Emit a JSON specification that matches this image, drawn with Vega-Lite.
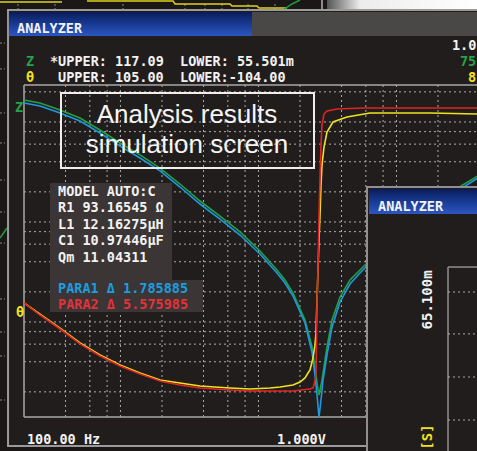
{
  "$schema": "https://vega.github.io/schema/vega-lite/v6.json",
  "width": 477,
  "height": 451,
  "padding": 0,
  "autosize": {"type": "none"},
  "background": "#1b1717",
  "config": {"view": {"stroke": null}},
  "datasets": {
    "zcurves": [
      {"series": "Z measured", "f": 100, "Z": 82.9},
      {"series": "Z measured", "f": 130.6, "Z": 77.4},
      {"series": "Z measured", "f": 182.4, "Z": 65.8},
      {"series": "Z measured", "f": 254.5, "Z": 54.8},
      {"series": "Z measured", "f": 355.3, "Z": 41.5},
      {"series": "Z measured", "f": 496.3, "Z": 30.8},
      {"series": "Z measured", "f": 692.8, "Z": 23.4},
      {"series": "Z measured", "f": 967.2, "Z": 17.3},
      {"series": "Z measured", "f": 1350, "Z": 11.98},
      {"series": "Z measured", "f": 1885, "Z": 8.1},
      {"series": "Z measured", "f": 2633, "Z": 5.73},
      {"series": "Z measured", "f": 3675, "Z": 3.97},
      {"series": "Z measured", "f": 5130, "Z": 2.56},
      {"series": "Z measured", "f": 6813, "Z": 1.654},
      {"series": "Z measured", "f": 7786, "Z": 1.314},
      {"series": "Z measured", "f": 8899, "Z": 0.974},
      {"series": "Z measured", "f": 10870, "Z": 0.523},
      {"series": "Z measured", "f": 12218, "Z": 0.281},
      {"series": "Z measured", "f": 12843, "Z": 0.177},
      {"series": "Z measured", "f": 13281, "Z": 0.1226},
      {"series": "Z measured", "f": 13731, "Z": 0.093},
      {"series": "Z measured", "f": 14436, "Z": 0.131},
      {"series": "Z measured", "f": 15690, "Z": 0.281},
      {"series": "Z measured", "f": 17060, "Z": 0.523},
      {"series": "Z measured", "f": 19490, "Z": 0.888},
      {"series": "Z measured", "f": 23030, "Z": 1.314},
      {"series": "Z measured", "f": 27210, "Z": 1.654},
      {"series": "Z measured", "f": 32150, "Z": 2.08},
      {"series": "Z measured", "f": 53040, "Z": 3.7},
      {"series": "Z measured", "f": 87500, "Z": 6.55},
      {"series": "Z measured", "f": 137300, "Z": 10.8},
      {"series": "Z measured", "f": 191700, "Z": 14.3},
      {"series": "Z simulated", "f": 100, "Z": 77.4},
      {"series": "Z simulated", "f": 130.6, "Z": 72.2},
      {"series": "Z simulated", "f": 182.4, "Z": 61.4},
      {"series": "Z simulated", "f": 254.5, "Z": 51.1},
      {"series": "Z simulated", "f": 355.3, "Z": 38.8},
      {"series": "Z simulated", "f": 496.3, "Z": 28.7},
      {"series": "Z simulated", "f": 692.8, "Z": 21.8},
      {"series": "Z simulated", "f": 967.2, "Z": 16.2},
      {"series": "Z simulated", "f": 1350, "Z": 11.18},
      {"series": "Z simulated", "f": 1885, "Z": 7.56},
      {"series": "Z simulated", "f": 2633, "Z": 5.35},
      {"series": "Z simulated", "f": 3675, "Z": 3.7},
      {"series": "Z simulated", "f": 5130, "Z": 2.39},
      {"series": "Z simulated", "f": 6813, "Z": 1.543},
      {"series": "Z simulated", "f": 7786, "Z": 1.226},
      {"series": "Z simulated", "f": 8899, "Z": 0.909},
      {"series": "Z simulated", "f": 10870, "Z": 0.488},
      {"series": "Z simulated", "f": 12218, "Z": 0.25},
      {"series": "Z simulated", "f": 12843, "Z": 0.147},
      {"series": "Z simulated", "f": 13281, "Z": 0.093},
      {"series": "Z simulated", "f": 13731, "Z": 0.056},
      {"series": "Z simulated", "f": 14197, "Z": 0.0829},
      {"series": "Z simulated", "f": 14680, "Z": 0.131},
      {"series": "Z simulated", "f": 15690, "Z": 0.234},
      {"series": "Z simulated", "f": 17060, "Z": 0.445},
      {"series": "Z simulated", "f": 19490, "Z": 0.792},
      {"series": "Z simulated", "f": 23030, "Z": 1.198},
      {"series": "Z simulated", "f": 27210, "Z": 1.543},
      {"series": "Z simulated", "f": 32150, "Z": 1.943},
      {"series": "Z simulated", "f": 53040, "Z": 3.46},
      {"series": "Z simulated", "f": 87500, "Z": 6.14},
      {"series": "Z simulated", "f": 137300, "Z": 10.1},
      {"series": "Z simulated", "f": 191700, "Z": 13.6}
    ],
    "tcurves": [
      {"series": "θ measured", "f": 100, "t": -32.2},
      {"series": "θ measured", "f": 130.6, "t": -39.2},
      {"series": "θ measured", "f": 182.4, "t": -48.0},
      {"series": "θ measured", "f": 254.5, "t": -57.4},
      {"series": "θ measured", "f": 355.3, "t": -65.0},
      {"series": "θ measured", "f": 496.3, "t": -71.3},
      {"series": "θ measured", "f": 692.8, "t": -76.3},
      {"series": "θ measured", "f": 967.2, "t": -80.7},
      {"series": "θ measured", "f": 1350, "t": -82.6},
      {"series": "θ measured", "f": 1885, "t": -84.5},
      {"series": "θ measured", "f": 3110, "t": -85.7},
      {"series": "θ measured", "f": 4341, "t": -86.4},
      {"series": "θ measured", "f": 6062, "t": -85.7},
      {"series": "θ measured", "f": 7164, "t": -85.1},
      {"series": "θ measured", "f": 8899, "t": -83.9},
      {"series": "θ measured", "f": 10000, "t": -82.0},
      {"series": "θ measured", "f": 10870, "t": -79.4},
      {"series": "θ measured", "f": 11430, "t": -76.3},
      {"series": "θ measured", "f": 11815, "t": -74.4},
      {"series": "θ measured", "f": 12420, "t": -66.9},
      {"series": "θ measured", "f": 12843, "t": -58.7},
      {"series": "θ measured", "f": 13060, "t": -51.1},
      {"series": "θ measured", "f": 13281, "t": -30.3},
      {"series": "θ measured", "f": 13503, "t": -11.5},
      {"series": "θ measured", "f": 13731, "t": 7.4},
      {"series": "θ measured", "f": 13959, "t": 23.2},
      {"series": "θ measured", "f": 14197, "t": 42.0},
      {"series": "θ measured", "f": 14436, "t": 54.6},
      {"series": "θ measured", "f": 14930, "t": 66.0},
      {"series": "θ measured", "f": 15690, "t": 75.4},
      {"series": "θ measured", "f": 17340, "t": 81.7},
      {"series": "θ measured", "f": 21900, "t": 84.9},
      {"series": "θ measured", "f": 32150, "t": 87.4},
      {"series": "θ measured", "f": 53040, "t": 87.4},
      {"series": "θ measured", "f": 87500, "t": 87.4},
      {"series": "θ measured", "f": 191700, "t": 86.7},
      {"series": "θ simulated", "f": 100, "t": -32.2},
      {"series": "θ simulated", "f": 130.6, "t": -39.8},
      {"series": "θ simulated", "f": 182.4, "t": -48.6},
      {"series": "θ simulated", "f": 254.5, "t": -58.0},
      {"series": "θ simulated", "f": 355.3, "t": -65.6},
      {"series": "θ simulated", "f": 496.3, "t": -71.9},
      {"series": "θ simulated", "f": 692.8, "t": -76.9},
      {"series": "θ simulated", "f": 967.2, "t": -81.3},
      {"series": "θ simulated", "f": 1350, "t": -83.9},
      {"series": "θ simulated", "f": 1885, "t": -85.7},
      {"series": "θ simulated", "f": 3110, "t": -87.0},
      {"series": "θ simulated", "f": 4341, "t": -87.6},
      {"series": "θ simulated", "f": 8899, "t": -87.6},
      {"series": "θ simulated", "f": 11815, "t": -86.4},
      {"series": "θ simulated", "f": 12420, "t": -85.7},
      {"series": "θ simulated", "f": 12630, "t": -83.9},
      {"series": "θ simulated", "f": 13060, "t": -77.6},
      {"series": "θ simulated", "f": 13170, "t": -58.7},
      {"series": "θ simulated", "f": 13281, "t": -32.2},
      {"series": "θ simulated", "f": 13503, "t": -10.2},
      {"series": "θ simulated", "f": 13731, "t": 23.2},
      {"series": "θ simulated", "f": 13959, "t": 45.2},
      {"series": "θ simulated", "f": 14197, "t": 67.2},
      {"series": "θ simulated", "f": 14436, "t": 79.8},
      {"series": "θ simulated", "f": 14930, "t": 86.7},
      {"series": "θ simulated", "f": 15690, "t": 88.6},
      {"series": "θ simulated", "f": 18540, "t": 89.9},
      {"series": "θ simulated", "f": 28610, "t": 90.5},
      {"series": "θ simulated", "f": 191700, "t": 90.5}
    ],
    "bgtraces": [
      {"trace": "bgθ1", "quantity": "θ", "f": 67, "t": 157.2},
      {"trace": "bgθ1", "quantity": "θ", "f": 188.6, "t": 157.2},
      {"trace": "bgθ2", "quantity": "θ", "f": 286.1, "t": 157.9},
      {"trace": "bgθ2", "quantity": "θ", "f": 1202, "t": 157.9},
      {"trace": "bgθ2", "quantity": "θ", "f": 1243, "t": 156.0},
      {"trace": "bgθ2", "quantity": "θ", "f": 3110, "t": 156.0},
      {"trace": "bgθ2", "quantity": "θ", "f": 3215, "t": 154.7},
      {"trace": "bgθ2", "quantity": "θ", "f": 4880, "t": 154.7},
      {"trace": "bgθ2", "quantity": "θ", "f": 5045, "t": 153.5},
      {"trace": "bgθ2", "quantity": "θ", "f": 8050, "t": 153.5},
      {"trace": "bgZ1", "quantity": "Z", "f": 7532, "t": 152.2},
      {"trace": "bgZ1", "quantity": "Z", "f": 8750, "t": 156.0},
      {"trace": "bgZ1", "quantity": "Z", "f": 10000, "t": 158.5},
      {"trace": "bgZ2", "quantity": "Z", "f": 67, "t": 8.7},
      {"trace": "bgZ2", "quantity": "Z", "f": 75.3, "t": 15.0}
    ],
    "panels": [
      {"part": "glare", "f": 15690, "f2": 191700, "t": 158.5, "t2": 152.2},
      {"part": "main", "f": 76.6, "f2": 200000, "t": 152.2, "t2": -122.2},
      {"part": "titlebar", "f": 77.8, "f2": 200000, "t": 150.95, "t2": 135.85},
      {"part": "titleblue", "f": 77.8, "f2": 4490, "t": 150.95, "t2": 135.85},
      {"part": "model", "f": 154.3, "f2": 1182, "t": 43.3, "t2": -17.8},
      {"part": "model", "f": 154.3, "f2": 1982, "t": -17.8, "t2": -37.9},
      {"part": "box", "f": 185.4, "f2": 12630, "t": 99.96, "t2": 52.75},
      {"part": "win2", "f": 30590, "f2": 200000, "t": 40.8, "t2": -127},
      {"part": "win2title", "f": 31620, "f2": 200000, "t": 39.5, "t2": 23.8}
    ],
    "segs": [
      {"kind": "tick", "f": 90.5, "f2": 90.5, "t": 156.0, "t2": 152.2},
      {"kind": "tick", "f": 167.7, "f2": 167.7, "t": 156.0, "t2": 152.2},
      {"kind": "tick", "f": 521.7, "f2": 521.7, "t": 156.0, "t2": 152.2},
      {"kind": "tick", "f": 1468, "f2": 1468, "t": 156.0, "t2": 152.2},
      {"kind": "tick", "f": 2049, "f2": 2049, "t": 156.0, "t2": 152.2},
      {"kind": "tick", "f": 2722, "f2": 2722, "t": 156.0, "t2": 152.2},
      {"kind": "tick", "f": 4201, "f2": 4201, "t": 156.0, "t2": 152.2},
      {"kind": "tick", "f": 6590, "f2": 6590, "t": 156.0, "t2": 152.2},
      {"kind": "tick", "f": 67, "f2": 72.8, "t": 131.4, "t2": 131.4},
      {"kind": "tick", "f": 67, "f2": 72.8, "t": 115.1, "t2": 115.1},
      {"kind": "tick", "f": 67, "f2": 72.8, "t": 87.4, "t2": 87.4},
      {"kind": "tick", "f": 67, "f2": 72.8, "t": 68.5, "t2": 68.5},
      {"kind": "tick", "f": 67, "f2": 72.8, "t": 45.2, "t2": 45.2},
      {"kind": "tick", "f": 67, "f2": 72.8, "t": 25.05, "t2": 25.05},
      {"kind": "tick", "f": 67, "f2": 72.8, "t": 5.5, "t2": 5.5},
      {"kind": "tick", "f": 67, "f2": 72.8, "t": -29.7, "t2": -29.7},
      {"kind": "tick", "f": 67, "f2": 72.8, "t": -50.5, "t2": -50.5},
      {"kind": "tick", "f": 67, "f2": 72.8, "t": -65.6, "t2": -65.6},
      {"kind": "tick", "f": 67, "f2": 72.8, "t": -93.3, "t2": -93.3},
      {"kind": "sep", "f": 14436, "f2": 14436, "t": 158.5, "t2": 152.2},
      {"kind": "frame", "f": 100, "f2": 191700, "t": 105, "t2": 105},
      {"kind": "frame", "f": 100, "f2": 100, "t": 105, "t2": -104},
      {"kind": "frame", "f": 100, "f2": 191700, "t": -104, "t2": -104},
      {"kind": "w2frame", "f": 118200, "f2": 118200, "t": -9.6, "t2": -127},
      {"kind": "w2frame", "f": 118200, "f2": 200000, "t": -9.6, "t2": -9.6},
      {"kind": "w2grid", "f": 118200, "f2": 200000, "t": -25.3, "t2": -25.3},
      {"kind": "w2grid", "f": 118200, "f2": 200000, "t": -51.7, "t2": -51.7},
      {"kind": "w2grid", "f": 118200, "f2": 200000, "t": -78.8, "t2": -78.8},
      {"kind": "w2grid", "f": 118200, "f2": 200000, "t": -105.9, "t2": -105.9}
    ],
    "vgrid": [
      {"f": 200}, {"f": 300}, {"f": 400}, {"f": 500}, {"f": 1000},
      {"f": 2000}, {"f": 3000}, {"f": 4000}, {"f": 5000}, {"f": 10000},
      {"f": 20000}, {"f": 30000}, {"f": 40000}, {"f": 50000}, {"f": 100000}
    ],
    "hgrid": [
      {"Z": 0.1}, {"Z": 0.2}, {"Z": 0.3}, {"Z": 0.4}, {"Z": 0.5},
      {"Z": 1}, {"Z": 2}, {"Z": 3}, {"Z": 4}, {"Z": 5},
      {"Z": 10}, {"Z": 20}, {"Z": 30}, {"Z": 40}, {"Z": 50}, {"Z": 100}
    ],
    "labels": [
      {"text": "ANALYZER", "f": 89.0, "t": 137.7, "role": "label", "win": 1},
      {"text": "Z", "f": 103.4, "t": 117.0, "role": "Z", "win": 1},
      {"text": "*UPPER: 117.09\u00a0\u00a0LOWER: 55.501m", "f": 154.3, "t": 117.0, "role": "label", "win": 1},
      {"text": "θ", "f": 103.4, "t": 106.9, "role": "θ", "win": 1},
      {"text": "UPPER: 105.00\u00a0\u00a0LOWER:-104.00", "f": 176.4, "t": 106.9, "role": "label", "win": 1},
      {"text": "1.0", "f": 126300, "t": 127.0, "role": "label", "win": 1},
      {"text": "75", "f": 144300, "t": 117.0, "role": "Z", "win": 1},
      {"text": "8", "f": 165000, "t": 106.9, "role": "θ", "win": 1},
      {"text": "Z", "f": 86.1, "t": 88.0, "role": "Z", "win": 1},
      {"text": "θ", "f": 87.5, "t": -41.0, "role": "θ", "win": 1},
      {"text": "MODEL AUTO:C", "f": 176.4, "t": 35.1, "role": "label", "win": 1},
      {"text": "R1 93.16545 Ω", "f": 176.4, "t": 25.05, "role": "label", "win": 1},
      {"text": "L1 12.16275µH", "f": 176.4, "t": 14.35, "role": "label", "win": 1},
      {"text": "C1 10.97446µF", "f": 176.4, "t": 4.28, "role": "label", "win": 1},
      {"text": "Qm 11.04311", "f": 176.4, "t": -6.4, "role": "label", "win": 1},
      {"text": "PARA1 Δ 1.785885", "f": 176.4, "t": -25.9, "role": "PARA1", "win": 1},
      {"text": "PARA2 Δ 5.575985", "f": 176.4, "t": -36.0, "role": "PARA2", "win": 1},
      {"text": "100.00 Hz", "f": 105.1, "t": -121.0, "role": "label", "win": 1},
      {"text": "1.000V", "f": 6813, "t": -121.0, "role": "label", "win": 1},
      {"text": "ANALYZER", "f": 36750, "t": 25.7, "role": "label", "win": 2},
      {"text": "65.100m", "f": 84650, "t": -30.3, "role": "label", "win": 3},
      {"text": "[S]", "f": 84650, "t": -116.6, "role": "θ", "win": 3}
    ],
    "captions": [
      {"text": "Analysis results", "f": 1518, "t": 81.1},
      {"text": "simulation screen", "f": 1518, "t": 62.2}
    ]
  },
  "resolve": {"scale": {"y": "independent", "color": "independent"}},
  "layer": [
    {
      "data": {"name": "panels"},
      "transform": [{"filter": "datum.part === 'glare'"}],
      "mark": {"type": "rect", "clip": true, "fill": {"gradient": "linear", "x1": 0, "y1": 0, "x2": 1, "y2": 0, "stops": [{"offset": 0, "color": "#555555"}, {"offset": 0.22, "color": "#ececec"}, {"offset": 1, "color": "#ffffff"}]}},
      "encoding": {
        "x": {"field": "f", "type": "quantitative", "scale": {"type": "log", "domain": [67, 191700], "nice": false}, "axis": null},
        "x2": {"field": "f2"},
        "y": {"field": "t", "type": "quantitative", "scale": {"domain": [-125.4, 158.5], "nice": false, "zero": false}, "axis": null},
        "y2": {"field": "t2"}
      }
    },
    {
      "data": {"name": "segs"},
      "transform": [{"filter": "datum.kind === 'tick'"}],
      "mark": {"type": "rule", "clip": true, "stroke": "#8a8a8a", "strokeWidth": 1, "strokeDash": [2, 2]},
      "encoding": {
        "x": {"field": "f", "type": "quantitative", "scale": {"type": "log", "domain": [67, 191700], "nice": false}, "axis": null},
        "x2": {"field": "f2"},
        "y": {"field": "t", "type": "quantitative", "scale": {"domain": [-125.4, 158.5], "nice": false, "zero": false}, "axis": null},
        "y2": {"field": "t2"}
      }
    },
    {
      "data": {"name": "segs"},
      "transform": [{"filter": "datum.kind === 'sep'"}],
      "mark": {"type": "rule", "clip": true, "stroke": "#8c8c8c", "strokeWidth": 2},
      "encoding": {
        "x": {"field": "f", "type": "quantitative", "scale": {"type": "log", "domain": [67, 191700], "nice": false}, "axis": null},
        "x2": {"field": "f2"},
        "y": {"field": "t", "type": "quantitative", "scale": {"domain": [-125.4, 158.5], "nice": false, "zero": false}, "axis": null},
        "y2": {"field": "t2"}
      }
    },
    {
      "data": {"name": "bgtraces"},
      "mark": {"type": "line", "clip": true, "strokeWidth": 1.5},
      "encoding": {
        "x": {"field": "f", "type": "quantitative", "scale": {"type": "log", "domain": [67, 191700], "nice": false}, "axis": null},
        "y": {"field": "t", "type": "quantitative", "scale": {"domain": [-125.4, 158.5], "nice": false, "zero": false}, "axis": null},
        "detail": {"field": "trace"},
        "color": {"field": "quantity", "type": "nominal", "scale": {"domain": ["Z", "θ"], "range": ["#1f9a40", "#e0d41e"]}, "legend": null}
      }
    },
    {
      "data": {"name": "panels"},
      "transform": [{"filter": "datum.part === 'main'"}],
      "mark": {"type": "rect", "clip": true, "fill": "#221d1d", "stroke": "#9a9a9a", "strokeWidth": 2},
      "encoding": {
        "x": {"field": "f", "type": "quantitative", "scale": {"type": "log", "domain": [67, 191700], "nice": false}, "axis": null},
        "x2": {"field": "f2"},
        "y": {"field": "t", "type": "quantitative", "scale": {"domain": [-125.4, 158.5], "nice": false, "zero": false}, "axis": null},
        "y2": {"field": "t2"}
      }
    },
    {
      "data": {"name": "panels"},
      "transform": [{"filter": "datum.part === 'titlebar'"}],
      "mark": {"type": "rect", "clip": true, "fill": "#4a4747"},
      "encoding": {
        "x": {"field": "f", "type": "quantitative", "scale": {"type": "log", "domain": [67, 191700], "nice": false}, "axis": null},
        "x2": {"field": "f2"},
        "y": {"field": "t", "type": "quantitative", "scale": {"domain": [-125.4, 158.5], "nice": false, "zero": false}, "axis": null},
        "y2": {"field": "t2"}
      }
    },
    {
      "data": {"name": "panels"},
      "transform": [{"filter": "datum.part === 'titleblue'"}],
      "mark": {"type": "rect", "clip": true, "fill": {"gradient": "linear", "x1": 0, "y1": 0, "x2": 0, "y2": 1, "stops": [{"offset": 0, "color": "#0a1c58"}, {"offset": 0.5, "color": "#183a94"}, {"offset": 1, "color": "#2e56c0"}]}},
      "encoding": {
        "x": {"field": "f", "type": "quantitative", "scale": {"type": "log", "domain": [67, 191700], "nice": false}, "axis": null},
        "x2": {"field": "f2"},
        "y": {"field": "t", "type": "quantitative", "scale": {"domain": [-125.4, 158.5], "nice": false, "zero": false}, "axis": null},
        "y2": {"field": "t2"}
      }
    },
    {
      "data": {"name": "vgrid"},
      "mark": {"type": "rule", "clip": true, "stroke": "#c4c4c4", "strokeWidth": 1, "strokeDash": [2, 3], "opacity": 0.85},
      "encoding": {
        "x": {"field": "f", "type": "quantitative", "scale": {"type": "log", "domain": [67, 191700], "nice": false}, "axis": null},
        "y": {"datum": 105, "type": "quantitative", "scale": {"domain": [-125.4, 158.5], "nice": false, "zero": false}, "axis": null},
        "y2": {"datum": -104}
      }
    },
    {
      "data": {"name": "hgrid"},
      "mark": {"type": "rule", "clip": true, "stroke": "#c4c4c4", "strokeWidth": 1, "strokeDash": [2, 3], "opacity": 0.85},
      "encoding": {
        "x": {"datum": 100, "type": "quantitative", "scale": {"type": "log", "domain": [67, 191700], "nice": false}, "axis": null},
        "x2": {"datum": 191700},
        "y": {"field": "Z", "type": "quantitative", "scale": {"type": "log", "domain": [0.02562, 828.9], "nice": false}, "axis": null}
      }
    },
    {
      "data": {"name": "segs"},
      "transform": [{"filter": "datum.kind === 'frame'"}],
      "mark": {"type": "rule", "clip": true, "stroke": "#a8a8a8", "strokeWidth": 1.5},
      "encoding": {
        "x": {"field": "f", "type": "quantitative", "scale": {"type": "log", "domain": [67, 191700], "nice": false}, "axis": null},
        "x2": {"field": "f2"},
        "y": {"field": "t", "type": "quantitative", "scale": {"domain": [-125.4, 158.5], "nice": false, "zero": false}, "axis": null},
        "y2": {"field": "t2"}
      }
    },
    {
      "data": {"name": "zcurves"},
      "mark": {"type": "line", "clip": true, "strokeWidth": 1.6},
      "encoding": {
        "x": {"field": "f", "type": "quantitative", "scale": {"type": "log", "domain": [67, 191700], "nice": false}, "axis": null},
        "y": {"field": "Z", "type": "quantitative", "scale": {"type": "log", "domain": [0.02562, 828.9], "nice": false}, "axis": null},
        "color": {"field": "series", "type": "nominal", "scale": {"domain": ["Z measured", "Z simulated"], "range": ["#22a045", "#1c98e0"]}, "legend": null}
      }
    },
    {
      "data": {"name": "tcurves"},
      "mark": {"type": "line", "clip": true, "strokeWidth": 1.6},
      "encoding": {
        "x": {"field": "f", "type": "quantitative", "scale": {"type": "log", "domain": [67, 191700], "nice": false}, "axis": null},
        "y": {"field": "t", "type": "quantitative", "scale": {"domain": [-125.4, 158.5], "nice": false, "zero": false}, "axis": null},
        "color": {"field": "series", "type": "nominal", "scale": {"domain": ["θ measured", "θ simulated"], "range": ["#f2e21e", "#e02424"]}, "legend": null}
      }
    },
    {
      "data": {"name": "panels"},
      "transform": [{"filter": "datum.part === 'model'"}],
      "mark": {"type": "rect", "clip": true, "fill": "#3b3535"},
      "encoding": {
        "x": {"field": "f", "type": "quantitative", "scale": {"type": "log", "domain": [67, 191700], "nice": false}, "axis": null},
        "x2": {"field": "f2"},
        "y": {"field": "t", "type": "quantitative", "scale": {"domain": [-125.4, 158.5], "nice": false, "zero": false}, "axis": null},
        "y2": {"field": "t2"}
      }
    },
    {
      "data": {"name": "panels"},
      "transform": [{"filter": "datum.part === 'box'"}],
      "mark": {"type": "rect", "clip": true, "fill": "#000000", "fillOpacity": 0, "stroke": "#eeeeee", "strokeWidth": 2},
      "encoding": {
        "x": {"field": "f", "type": "quantitative", "scale": {"type": "log", "domain": [67, 191700], "nice": false}, "axis": null},
        "x2": {"field": "f2"},
        "y": {"field": "t", "type": "quantitative", "scale": {"domain": [-125.4, 158.5], "nice": false, "zero": false}, "axis": null},
        "y2": {"field": "t2"}
      }
    },
    {
      "data": {"name": "labels"},
      "transform": [{"filter": "datum.win === 1"}],
      "mark": {"type": "text", "clip": true, "font": "DejaVu Sans Mono", "fontWeight": "bold", "fontSize": 13.5, "align": "left", "baseline": "alphabetic"},
      "encoding": {
        "x": {"field": "f", "type": "quantitative", "scale": {"type": "log", "domain": [67, 191700], "nice": false}, "axis": null},
        "y": {"field": "t", "type": "quantitative", "scale": {"domain": [-125.4, 158.5], "nice": false, "zero": false}, "axis": null},
        "text": {"field": "text"},
        "color": {"field": "role", "type": "nominal", "scale": {"domain": ["label", "Z", "θ", "PARA1", "PARA2"], "range": ["#f2f2f2", "#22a447", "#f2e21e", "#1c9de0", "#e2323a"]}, "legend": null}
      }
    },
    {
      "data": {"name": "captions"},
      "mark": {"type": "text", "clip": true, "font": "Liberation Sans", "fontSize": 26, "align": "center", "baseline": "alphabetic", "color": "#f5f5f5"},
      "encoding": {
        "x": {"field": "f", "type": "quantitative", "scale": {"type": "log", "domain": [67, 191700], "nice": false}, "axis": null},
        "y": {"field": "t", "type": "quantitative", "scale": {"domain": [-125.4, 158.5], "nice": false, "zero": false}, "axis": null},
        "text": {"field": "text"}
      }
    },
    {
      "data": {"name": "panels"},
      "transform": [{"filter": "datum.part === 'win2'"}],
      "mark": {"type": "rect", "clip": true, "fill": "#221d1d", "stroke": "#8f8f8f", "strokeWidth": 2},
      "encoding": {
        "x": {"field": "f", "type": "quantitative", "scale": {"type": "log", "domain": [67, 191700], "nice": false}, "axis": null},
        "x2": {"field": "f2"},
        "y": {"field": "t", "type": "quantitative", "scale": {"domain": [-125.4, 158.5], "nice": false, "zero": false}, "axis": null},
        "y2": {"field": "t2"}
      }
    },
    {
      "data": {"name": "panels"},
      "transform": [{"filter": "datum.part === 'win2title'"}],
      "mark": {"type": "rect", "clip": true, "fill": {"gradient": "linear", "x1": 0, "y1": 0, "x2": 0, "y2": 1, "stops": [{"offset": 0, "color": "#0a1c58"}, {"offset": 0.5, "color": "#183a94"}, {"offset": 1, "color": "#2e56c0"}]}},
      "encoding": {
        "x": {"field": "f", "type": "quantitative", "scale": {"type": "log", "domain": [67, 191700], "nice": false}, "axis": null},
        "x2": {"field": "f2"},
        "y": {"field": "t", "type": "quantitative", "scale": {"domain": [-125.4, 158.5], "nice": false, "zero": false}, "axis": null},
        "y2": {"field": "t2"}
      }
    },
    {
      "data": {"name": "segs"},
      "transform": [{"filter": "datum.kind === 'w2frame'"}],
      "mark": {"type": "rule", "clip": true, "stroke": "#8f8f8f", "strokeWidth": 1.5},
      "encoding": {
        "x": {"field": "f", "type": "quantitative", "scale": {"type": "log", "domain": [67, 191700], "nice": false}, "axis": null},
        "x2": {"field": "f2"},
        "y": {"field": "t", "type": "quantitative", "scale": {"domain": [-125.4, 158.5], "nice": false, "zero": false}, "axis": null},
        "y2": {"field": "t2"}
      }
    },
    {
      "data": {"name": "segs"},
      "transform": [{"filter": "datum.kind === 'w2grid'"}],
      "mark": {"type": "rule", "clip": true, "stroke": "#c4c4c4", "strokeWidth": 1, "strokeDash": [2, 3], "opacity": 0.85},
      "encoding": {
        "x": {"field": "f", "type": "quantitative", "scale": {"type": "log", "domain": [67, 191700], "nice": false}, "axis": null},
        "x2": {"field": "f2"},
        "y": {"field": "t", "type": "quantitative", "scale": {"domain": [-125.4, 158.5], "nice": false, "zero": false}, "axis": null},
        "y2": {"field": "t2"}
      }
    },
    {
      "data": {"name": "labels"},
      "transform": [{"filter": "datum.win === 2"}],
      "mark": {"type": "text", "clip": true, "font": "DejaVu Sans Mono", "fontWeight": "bold", "fontSize": 13.5, "align": "left", "baseline": "alphabetic"},
      "encoding": {
        "x": {"field": "f", "type": "quantitative", "scale": {"type": "log", "domain": [67, 191700], "nice": false}, "axis": null},
        "y": {"field": "t", "type": "quantitative", "scale": {"domain": [-125.4, 158.5], "nice": false, "zero": false}, "axis": null},
        "text": {"field": "text"},
        "color": {"field": "role", "type": "nominal", "scale": {"domain": ["label", "Z", "θ", "PARA1", "PARA2"], "range": ["#f2f2f2", "#22a447", "#f2e21e", "#1c9de0", "#e2323a"]}, "legend": null}
      }
    },
    {
      "data": {"name": "labels"},
      "transform": [{"filter": "datum.win === 3"}],
      "mark": {"type": "text", "clip": true, "font": "DejaVu Sans Mono", "fontWeight": "bold", "fontSize": 14, "align": "center", "baseline": "middle", "angle": 270},
      "encoding": {
        "x": {"field": "f", "type": "quantitative", "scale": {"type": "log", "domain": [67, 191700], "nice": false}, "axis": null},
        "y": {"field": "t", "type": "quantitative", "scale": {"domain": [-125.4, 158.5], "nice": false, "zero": false}, "axis": null},
        "text": {"field": "text"},
        "color": {"field": "role", "type": "nominal", "scale": {"domain": ["label", "Z", "θ", "PARA1", "PARA2"], "range": ["#f2f2f2", "#22a447", "#f2e21e", "#1c9de0", "#e2323a"]}, "legend": null}
      }
    }
  ]
}
